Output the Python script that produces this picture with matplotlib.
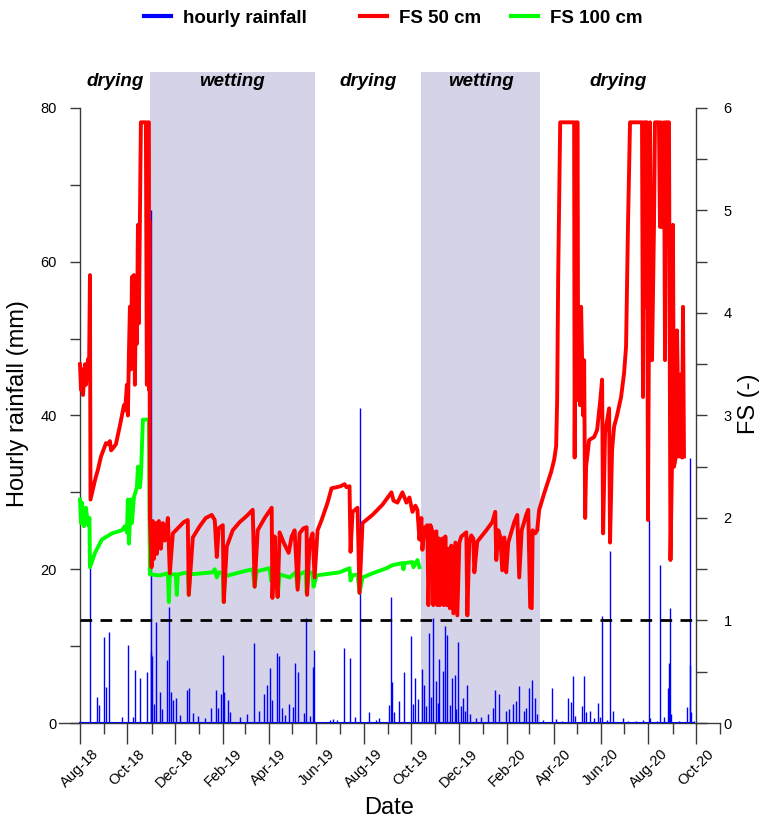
import numpy as np
import pandas as pd
import matplotlib
matplotlib.use('Agg')
import matplotlib.pyplot as plt
import matplotlib.dates as mdates
import matplotlib.ticker as mticker
from matplotlib.lines import Line2D
from matplotlib.transforms import blended_transform_factory

plt.rcParams['font.family'] = ['Liberation Sans', 'DejaVu Sans']

start = pd.Timestamp('2018-08-01')
end = pd.Timestamp('2020-10-01')

# drying / wetting periods
period_edges = ['2018-08-01', '2018-10-30', '2019-05-30', '2019-10-14', '2020-03-14', '2020-10-01']
period_names = ['drying', 'wetting', 'drying', 'wetting', 'drying']

# hourly rainfall: (days since 1 Aug 2018, mm)
rain_events = [
    (0, 0.3), (12.8, 20.2), (21.4, 3.4), (24.4, 2.3), (30.8, 11.2), (33.4, 4.7), (37.2, 11.8),
    (53.5, 0.8), (61.2, 10.1), (67.6, 0.8), (70.6, 6.9), (77.0, 5.9), (86.4, 6.6), (90.9, 66.7),
    (90.8, 9.2), (92.8, 8.7), (95.5, 2.5), (98.0, 13.2), (102.7, 4.0), (105.9, 1.8), (112.1, 8.2),
    (114.2, 15.1), (116.8, 4.0), (119.6, 3.0), (123.2, 3.2), (128.4, 1.1), (138.2, 4.3), (140.3, 4.5),
    (145.0, 1.3), (152.0, 0.9), (160.4, 0.6), (169.1, 2.0), (175.5, 4.3), (178.0, 1.9), (181.9, 3.8),
    (184.0, 8.8), (184.8, 4.0), (189.7, 3.0), (193.5, 1.4), (205.2, 0.8), (215.3, 1.2), (223.7, 10.4),
    (230.3, 1.6), (237.1, 3.8), (240.3, 4.9), (244.8, 7.2), (246.8, 3.0), (253.3, 9.1), (255.8, 8.7),
    (259.8, 2.0), (263.6, 1.0), (268.3, 2.5), (273.8, 2.1), (276.9, 7.8), (280.7, 6.6), (287.9, 1.3),
    (291.0, 13.7), (296.0, 0.9), (299.1, 7.3), (300.4, 9.5), (322, 0.4), (325, 0.5), (331, 0.4),
    (339.3, 9.8), (347.5, 8.5), (353.1, 0.8), (359.8, 41.0), (371.0, 1.4), (380.6, 0.4), (385, 0.6),
    (397.6, 2.3), (400.1, 16.4), (401.4, 5.3), (404, 1.4), (410.5, 2.8), (417.2, 6.6), (425.8, 11.3),
    (428.5, 2.5), (430.9, 5.8), (435.0, 3.1), (439.4, 7.0), (442.0, 5.0), (444.6, 2.2), (448.4, 11.7),
    (451.0, 3.4), (453.5, 13.7), (457.9, 5.5), (460.0, 2.6), (462.1, 8.3), (466.4, 6.8), (469.8, 12.6),
    (472.0, 11.4), (475.4, 2.4), (478.4, 5.8), (481.8, 6.3), (484.0, 1.8), (486.5, 10.5), (489.6, 2.2),
    (492.1, 3.2), (495.0, 1.5), (497.7, 4.9), (501.9, 1.2), (509.8, 0.6), (515.6, 0.8), (525.1, 1.2),
    (530.5, 1.9), (533.6, 4.3), (539.1, 3.8), (547.7, 1.5), (552.0, 1.8), (556.5, 2.5), (560.6, 2.9),
    (564.8, 4.8), (570.6, 1.6), (574.0, 2.0), (577.6, 4.5), (581.1, 5.6), (585.3, 3.3), (588.1, 1.2),
    (596, 0.4), (606.8, 4.6), (612.0, 0.5), (620, 0.3), (627.7, 3.3), (632.0, 2.7), (634.5, 6.1),
    (637.0, 0.9), (646.0, 2.2), (648.3, 6.1), (650.1, 1.4), (656.0, 1.5), (661, 0.6), (665.8, 2.6),
    (669.0, 0.8), (671.7, 13.9), (677.5, 0.4), (681.2, 22.4), (685.5, 1.5), (698.0, 0.6), (705, 0.3),
    (715, 0.2), (724, 0.4), (731.3, 26.4), (733.0, 0.6), (742, 0.3), (745.4, 20.6), (751.0, 0.8),
    (756.5, 4.5), (757.4, 7.8), (758.6, 14.9), (760.1, 1.2), (770, 0.3), (781.0, 2.1), (783.9, 34.5),
    (784.3, 7.6), (786.0, 1.4), (789.0, 0.3),
]

# factor of safety at 50 cm: (days since 1 Aug 2018, FS)
fs50_points = [
    (0, 3.5), (1.3, 3.25), (2.6, 3.45), (3.9, 3.2), (6.4, 3.5), (7.7, 3.3), (10.3, 3.55), (11.6, 3.4),
    (12.8, 4.37), (13.5, 2.18), (19.3, 2.37), (23.0, 2.47), (27.0, 2.6), (30.0, 2.66), (33.4, 2.73),
    (35.9, 2.72), (38.5, 2.75), (40.0, 2.66), (42.4, 2.68), (46.2, 2.72), (51.3, 2.9), (56.5, 3.1),
    (58.0, 3.05), (60.3, 3.3), (61.6, 3.0), (62.9, 3.6), (64.2, 4.06), (65.5, 3.45), (66.8, 4.35),
    (69.3, 4.37), (70.6, 3.3), (71.9, 4.2), (73.2, 3.7), (74.5, 4.86), (75.7, 3.9), (77.0, 4.86),
    (78.3, 5.86), (84.7, 5.86), (86.0, 3.3), (87.3, 5.86), (88.6, 5.86), (88.9, 3.25), (89.3, 4.9),
    (89.9, 2.0),
    (92.0, 1.52), (93.7, 1.97), (95.0, 1.6), (97.6, 1.95), (98.8, 1.65), (101.4, 1.97), (104.0, 1.7),
    (106.5, 1.95), (109.1, 1.78), (113.0, 2.0), (115.5, 1.46), (119.4, 1.85), (125.8, 1.9),
    (133.5, 1.96), (138.6, 1.98), (139.9, 1.25), (145.1, 1.81), (154.0, 1.92), (161.7, 2.0),
    (169.4, 2.03), (173.3, 1.98), (175.9, 1.62), (178.4, 1.9), (183.6, 1.93), (184.9, 1.18),
    (188.7, 1.72), (196.4, 1.88), (205.4, 1.96), (214.4, 2.02), (222.1, 2.08), (224.6, 1.33),
    (228.5, 1.88), (237.5, 2.0), (246.5, 2.1), (247.4, 1.22), (250.3, 1.82), (251.6, 1.5),
    (254.2, 1.23), (256.7, 1.86), (261.9, 1.76), (268.3, 1.66), (272.2, 1.82), (276.0, 1.88),
    (279.9, 1.3), (282.4, 1.85), (287.5, 1.9), (291.4, 1.91), (292.0, 1.25), (295.3, 1.76),
    (299.1, 1.85), (301.7, 1.42),
    (305.5, 1.88), (310.7, 1.98), (318.4, 2.15), (323.5, 2.29), (329.9, 2.3), (335.1, 2.31),
    (340.2, 2.33), (342.7, 2.3), (346.6, 2.31), (347.9, 1.67), (350.5, 2.06), (356.9, 2.1),
    (359.4, 1.27), (363.3, 1.95), (376.1, 2.03), (389.0, 2.13), (400.5, 2.25), (403.1, 2.17),
    (408.2, 2.15), (414.6, 2.25), (419.8, 2.15), (423.6, 2.2), (427.5, 2.06), (431.3, 2.12),
    (433.9, 2.08), (436.5, 1.79),
    (439.0, 2.0), (440.3, 1.69), (442.9, 1.9), (446.7, 1.93), (448.0, 1.15), (450.6, 1.93),
    (453.2, 1.87), (454.4, 1.15), (455.7, 1.85), (458.3, 1.87), (459.6, 1.15), (461.5, 1.8),
    (462.8, 1.15), (466.0, 1.8), (467.9, 1.15), (469.8, 1.82), (471.7, 1.15), (473.7, 1.7),
    (475.6, 1.12), (477.5, 1.73), (480.1, 1.07), (482.7, 1.76), (485.2, 1.05), (487.8, 1.76),
    (490.4, 1.82), (496.8, 1.86), (498.1, 1.05), (500.6, 1.76), (503.2, 1.83), (505.8, 1.8),
    (507.1, 1.47), (510.9, 1.77), (522.5, 1.88), (530.2, 1.96), (534.0, 2.06), (535.3, 1.59),
    (537.9, 1.88), (540.4, 1.82), (543.0, 1.49), (545.6, 1.81), (548.1, 1.47), (550.7, 1.76),
    (558.4, 1.96), (562.3, 2.03), (564.8, 1.42), (568.0, 1.88), (573.8, 2.03), (576.4, 2.08),
    (578.9, 1.13), (580.9, 1.12), (582.1, 1.88), (585.4, 1.85), (587.9, 1.88),
    (590.5, 2.08), (596.9, 2.24), (605.9, 2.45), (609.8, 2.57), (612.3, 2.7), (613.6, 3.15),
    (614.9, 4.35), (617.5, 5.86), (635.4, 5.86), (636.1, 2.59), (638.0, 5.86), (639.9, 5.86),
    (640.6, 3.15), (641.9, 4.06), (643.1, 3.1), (644.4, 4.06), (647.0, 3.0), (648.3, 3.54),
    (649.6, 2.0), (650.8, 2.5), (654.7, 2.76), (661.1, 2.79), (665.0, 2.86), (668.8, 3.13),
    (671.4, 3.35), (672.7, 1.85), (675.2, 2.83), (680.4, 3.07), (681.6, 1.76), (684.2, 2.66),
    (686.8, 2.89), (690.6, 3.0), (695.8, 3.18), (699.6, 3.41), (702.2, 3.67), (704.7, 4.86),
    (707.3, 5.86), (722.7, 5.86), (724.0, 3.18), (725.3, 5.86), (727.2, 5.86), (727.9, 4.06),
    (729.1, 5.86), (730.4, 1.98), (733.0, 5.86), (734.3, 4.5), (735.6, 3.54), (738.1, 4.84),
    (739.4, 5.86), (744.5, 5.86), (745.8, 4.84), (747.1, 5.86), (748.4, 4.84), (751.0, 5.86),
    (752.3, 3.54), (753.5, 5.86), (757.4, 5.86), (758.7, 3.0), (759.3, 1.59), (761.2, 2.5),
    (762.5, 4.86), (763.8, 2.5), (766.4, 2.6), (767.7, 3.83), (770.2, 2.6), (772.2, 3.4),
    (774.1, 2.59), (775.4, 4.06), (776.7, 2.6),
]

# factor of safety at 100 cm: (days since 1 Aug 2018, FS)
fs100_points = [
    (0, 2.18), (1.3, 1.95), (2.6, 2.15), (5.1, 1.92), (7.7, 2.1), (10.3, 1.93), (12.2, 2.0),
    (12.8, 1.52), (19.3, 1.66), (28.2, 1.79), (41.1, 1.85), (53.9, 1.88), (57.8, 1.92), (60.3, 1.86),
    (61.6, 2.18), (62.9, 1.75), (65.5, 2.18), (66.8, 1.95), (69.3, 2.2), (73.2, 2.3), (74.5, 2.5),
    (77.0, 2.3), (78.3, 2.4), (80.9, 2.96), (88.6, 2.96), (89.9, 1.45), (102.7, 1.44), (113.0, 1.46),
    (114.2, 1.18), (115.5, 1.45), (123.2, 1.45), (124.5, 1.25), (125.8, 1.45), (138.6, 1.47),
    (139.9, 1.25), (141.2, 1.45), (170.7, 1.47), (173.3, 1.5), (175.9, 1.42), (178.4, 1.47),
    (183.6, 1.46), (184.9, 1.18), (186.1, 1.43), (205.4, 1.47), (222.1, 1.5), (224.6, 1.33),
    (227.2, 1.48), (243.6, 1.51), (246.2, 1.38), (249.0, 1.47), (253.0, 1.45), (254.2, 1.23),
    (256.7, 1.45), (269.6, 1.42), (277.3, 1.47), (279.9, 1.32), (282.4, 1.45), (290.1, 1.48),
    (291.4, 1.27), (294.0, 1.46), (299.1, 1.47), (300.4, 1.33), (304.2, 1.44), (333.8, 1.47),
    (346.6, 1.51), (347.9, 1.39), (350.5, 1.44), (356.9, 1.45), (359.4, 1.27), (363.3, 1.42),
    (376.1, 1.46), (394.1, 1.51), (401.8, 1.54), (414.6, 1.56), (415.9, 1.5), (417.2, 1.56),
    (427.5, 1.57), (428.8, 1.52), (433.9, 1.59), (436.5, 1.52),
]


def to_dates(days):
    return start + pd.to_timedelta(np.asarray(days, dtype=float), unit='D')


rain_day, rain_mm = zip(*rain_events)
fs50_day, fs50 = zip(*fs50_points)
fs100_day, fs100 = zip(*fs100_points)
rain_dates = to_dates(rain_day)

axis_col = '#3a3a3a'
shade_col = '#d4d3e8'

fig = plt.figure(figsize=(7.64, 8.22), dpi=100)
ax = fig.add_axes([59 / 764, 1 - 723 / 822, 661 / 764, 651 / 822])

# wetting periods shaded
edges = pd.to_datetime(period_edges)
for i, name in enumerate(period_names):
    if name == 'wetting':
        ax.axvspan(edges[i], edges[i + 1], color=shade_col, lw=0, zorder=0)

# rainfall bars
ax.vlines(rain_dates, 0, rain_mm, color='#0000ff', lw=1.0, zorder=2)
ax.plot([rain_dates.min(), rain_dates.max()], [0, 0], color='#0000ff', lw=1.5, zorder=3)

ax.set_xlim(start - pd.Timedelta(days=27), end + pd.Timedelta(days=31))
ax.set_ylim(0, 84.68)

ax2 = ax.twinx()
ax2.set_ylim(0, 6.351)
ax2.hlines(1, start, end, colors='k', linestyles=(0, (4.2, 3)), lw=2, zorder=1)
ax2.plot(to_dates(fs100_day), fs100, color='#00ff00', lw=2.8, zorder=2)
ax2.plot(to_dates(fs50_day), fs50, color='#ff0000', lw=2.8, zorder=3)

# spines
for s in ['top', 'right']:
    ax.spines[s].set_visible(False)
for s in ['top', 'left', 'bottom']:
    ax2.spines[s].set_visible(False)
ax.spines['left'].set_position(('data', mdates.date2num(start)))
ax.spines['left'].set_bounds(0, 80)
ax2.spines['right'].set_position(('data', mdates.date2num(end)))
ax2.spines['right'].set_bounds(0, 6)
for sp in [ax.spines['left'], ax.spines['bottom'], ax2.spines['right']]:
    sp.set_color(axis_col)
    sp.set_linewidth(1)

# ticks
ax.xaxis.set_major_locator(mdates.MonthLocator(bymonth=(2, 4, 6, 8, 10, 12)))
ax.xaxis.set_minor_locator(mdates.MonthLocator())
ax.xaxis.set_major_formatter(mdates.DateFormatter('%b-%y'))
ax.tick_params(axis='x', which='major', length=15, width=1, color=axis_col, labelsize=10.5, pad=2)
ax.tick_params(axis='x', which='minor', length=7.7, width=1, color=axis_col)
plt.setp(ax.get_xticklabels(), rotation=45)

ax.yaxis.set_major_locator(mticker.MultipleLocator(20))
ax.yaxis.set_minor_locator(mticker.MultipleLocator(10))
ax.tick_params(axis='y', which='both', length=7.5, width=1, color=axis_col, labelsize=10.5, pad=9)

ax2.yaxis.set_major_locator(mticker.MultipleLocator(1))
ax2.yaxis.set_minor_locator(mticker.MultipleLocator(0.5))
ax2.tick_params(axis='y', which='both', length=8, width=1, color=axis_col, labelsize=10.5, pad=12)

ax.set_ylabel('Hourly rainfall (mm)', fontsize=17)
ax.yaxis.set_label_coords(-0.045, 0.49)
ax2.set_ylabel('FS (-)', fontsize=17)
ax2.yaxis.set_label_coords(1.027, 0.49)
ax.set_xlabel('Date', fontsize=17)
ax.xaxis.set_label_coords(0.5, -0.114)

# period labels
trans = blended_transform_factory(ax.transData, ax.transAxes)
for i, name in enumerate(period_names):
    mid = edges[i] + (edges[i + 1] - edges[i]) / 2
    ax.text(mid, 0.985, name, transform=trans, ha='center', va='center',
            fontsize=13.5, fontweight='bold', fontstyle='italic', clip_on=False)

# legend entries
legend_items = [('hourly rainfall', '#0000ff', 144), ('FS 50 cm', '#ff0000', 360), ('FS 100 cm', '#00ff00', 511)]
for label, col, xpx in legend_items:
    fig.legend([Line2D([], [], color=col, lw=3)], [label], loc='center left',
               bbox_to_anchor=(xpx / 764, 1 - 18 / 822), frameon=False,
               borderpad=0, borderaxespad=0, handlelength=1.45, handletextpad=0.65,
               prop={'size': 13.5, 'weight': 'bold'})

fig.savefig('out.png', dpi=100)
